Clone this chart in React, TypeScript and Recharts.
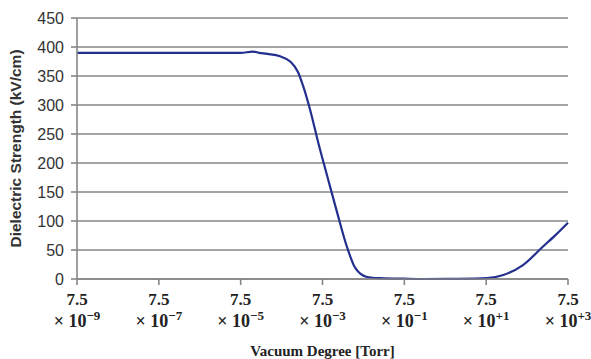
import React from 'react';
import { LineChart, Line, XAxis, YAxis, CartesianGrid } from 'recharts';

// x = exponent of (pressure / 7.5) in Torr
const exponents = [-9, -6, -5, -4.7, -4.55, -4.35, -4.04, -3.79, -3.6, -3.47, -3.3, -3.1, -2.86, -2.64, -2.4, -2.2, -1.91, -1.59, -1.0, -0.54, 0.29, 1.02, 1.42, 1.9, 2.39, 2.7, 3];
const strength = [390, 390, 390, 392, 390, 388, 384, 375, 357, 332, 291, 234, 171, 114, 55, 19, 3.5, 1.5, 0.5, 0, 0.3, 1.5, 7, 24, 56, 76, 97];
const xTicks = [-9, -7, -5, -3, -1, 1, 3];
const xTickExp = ['−9', '−7', '−5', '−3', '−1', '+1', '+3'];
const yTicks = [0, 50, 100, 150, 200, 250, 300, 350, 400, 450];

const data = exponents.map((e, i) => ({ e, v: strength[i] }));

const serif = '"Liberation Serif", "Times New Roman", serif';
const sans = '"Liberation Sans", Arial, sans-serif';

const XTick = (props: any) => {
  const { x, y, payload } = props;
  const idx = xTicks.indexOf(payload.value);
  return (
    <g>
      <text x={x} y={y + 20} textAnchor="middle" fontFamily={serif} fontWeight="bold" fontSize={17} fill="#222">7.5</text>
      <text x={x} y={y + 42} textAnchor="middle" fontFamily={serif} fontWeight="bold" fontSize={18} fill="#222">
        × 10<tspan dy={-7} fontSize={13}>{xTickExp[idx]}</tspan>
      </text>
    </g>
  );
};

export default function App() {
  return (
    <div style={{ position: 'absolute', left: 0, top: 0, width: 591, height: 359, background: '#fff' }}>
      <LineChart width={591} height={359} data={data} margin={{ top: 18, right: 23, left: 0, bottom: 0 }}>
        <CartesianGrid vertical={false} stroke="#868686" strokeWidth={1.6} />
        <XAxis
          dataKey="e"
          type="number"
          domain={[-9, 3]}
          ticks={xTicks}
          height={80}
          tick={<XTick />}
          tickSize={6}
          tickMargin={0}
          stroke="#868686"
          strokeWidth={1.6}
          label={{ value: 'Vacuum Degree [Torr]', position: 'insideBottom', offset: 3, style: { fontFamily: serif, fontWeight: 'bold', fontSize: 15, fill: '#222' } }}
        />
        <YAxis
          type="number"
          domain={[0, 450]}
          ticks={yTicks}
          width={77}
          tickSize={6}
          tickMargin={7}
          stroke="#868686"
          strokeWidth={1.6}
          tick={{ fontFamily: sans, fontSize: 16, fill: '#333' }}
          label={{ value: 'Dielectric Strength (kV/cm)', angle: -90, position: 'insideLeft', offset: 15, style: { textAnchor: 'middle', fontFamily: sans, fontWeight: 'bold', fontSize: 15.5, fill: '#333' } }}
        />
        <Line type="monotone" dataKey="v" stroke="#232f8e" strokeWidth={2.2} dot={false} isAnimationActive={false} />
      </LineChart>
    </div>
  );
}
